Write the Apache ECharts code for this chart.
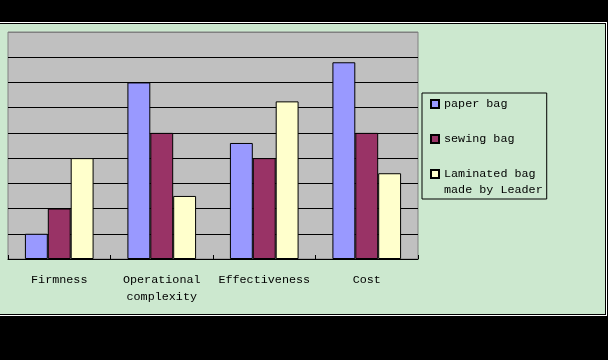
<!DOCTYPE html>
<html>
<head>
<meta charset="utf-8">
<script src="https://cdn.jsdelivr.net/npm/echarts@6/dist/echarts.min.js"></script>
<style>
  html, body { margin: 0; padding: 0; width: 608px; height: 360px; background: #000; overflow: hidden; }
  #frame { position: absolute; left: -1px; top: 23px; width: 605px; height: 290px;
           background: #cce8cf; border: 1px solid #000; box-shadow: 0 0 0 1px #fff; }
  #chart { position: absolute; left: 0; top: 0; width: 608px; height: 360px; }
</style>
</head>
<body>
<div id="frame"></div>
<div id="chart"></div>
<script>
var categories = ['Firmness', 'Operational\ncomplexity', 'Effectiveness', 'Cost'];
var seriesNames = ['paper bag', 'sewing bag', 'Laminated bag made by Leader'];
var paperBag = [1, 7, 4.6, 7.8];
var sewingBag = [2, 5, 4, 5];
var laminatedBag = [4, 2.5, 6.25, 3.4];
var yTicks = [0, 1, 2, 3, 4, 5, 6, 7, 8, 9];

var colors = ['#9999ff', '#993366', '#ffffcc'];
var values = [paperBag, sewingBag, laminatedBag];
var font = 'Liberation Mono';

var chart = echarts.init(document.getElementById('chart'), null, { renderer: 'canvas' });

var splitColors = yTicks.map(function (v, i) { return i === yTicks.length - 1 ? '#808080' : '#000000'; });

var option = {
  animation: false,
  backgroundColor: 'transparent',
  grid: {
    left: 8, right: 190, top: 32, bottom: 101,
    show: true, backgroundColor: '#c0c0c0', borderColor: '#808080', borderWidth: 1
  },
  legend: {
    orient: 'vertical',
    left: 422, top: 93,
    padding: [3, 4, 3, 8],
    itemWidth: 8, itemHeight: 8, itemGap: 19, itemTextGap: 5,
    icon: 'rect',
    borderColor: '#000', borderWidth: 1,
    textStyle: {
      fontFamily: font, fontSize: 11.75, color: '#000', lineHeight: 16,
      rich: {
        a: { fontFamily: font, fontSize: 11.75, color: '#000', lineHeight: 16 },
        b: { fontFamily: font, fontSize: 11.75, color: '#000', height: 16, lineHeight: 0, verticalAlign: 'top' }
      }
    },
    formatter: function (name) {
      return name === seriesNames[2] ? '{a|Laminated bag}\n{b|made by Leader}' : name;
    },
    data: seriesNames
  },
  xAxis: {
    type: 'category',
    data: categories,
    axisLine: { show: true, lineStyle: { color: '#000', width: 1 } },
    axisTick: { show: true, inside: true, length: 4, alignWithLabel: false, lineStyle: { color: '#000' } },
    axisLabel: { fontFamily: font, fontSize: 11.75, color: '#000', margin: 12, lineHeight: 17, interval: 0 },
    splitLine: { show: false }
  },
  yAxis: {
    type: 'value',
    min: yTicks[0], max: yTicks[yTicks.length - 1], interval: 1,
    axisLine: { show: false },
    axisTick: { show: false },
    axisLabel: { show: false },
    splitLine: { show: true, lineStyle: { color: splitColors, width: 1 } }
  },
  series: seriesNames.map(function (name, i) {
    return {
      name: name,
      type: 'bar',
      data: values[i],
      barGap: '0%',
      barCategoryGap: '33%',
      itemStyle: { color: colors[i], borderColor: '#000', borderWidth: 1 }
    };
  })
};
chart.setOption(option);
</script>
</body>
</html>
